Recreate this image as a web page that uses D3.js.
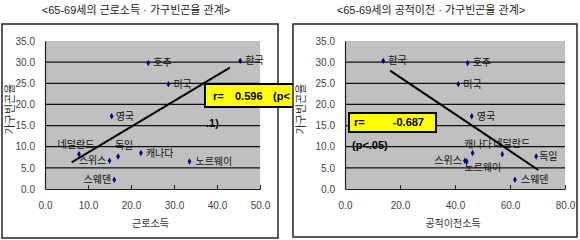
<!DOCTYPE html>
<html>
<head>
<meta charset="utf-8">
<script src="https://cdn.jsdelivr.net/npm/d3@7"></script>
<style>
  body { margin: 0; background: #fff; }
  text { font-family: 'Liberation Sans', 'Noto Sans CJK KR', sans-serif; }
</style>
</head>
<body>
<div id="chart"></div>
<script>
// Two scatter panels: elderly household poverty vs earned income / public transfers.

const countries = ['한국', '호주', '미국', '영국', '네덜란드', '스위스', '독일', '캐나다', '노르웨이', '스웨덴'];
const povertyRate = [30.3, 29.8, 24.8, 17.2, 8.2, 6.7, 7.7, 8.5, 6.5, 2.2];
const earnedIncome = [45.4, 24.0, 28.7, 15.5, 7.9, 15.0, 17.0, 22.3, 33.6, 16.1];
const publicTransfer = [13.9, 44.6, 41.2, 46.1, 57.2, 43.6, 69.5, 46.4, 44.3, 61.8];

const yTicks = [0, 5, 10, 15, 20, 25, 30, 35];
const earnedTicks = [0, 10, 20, 30, 40, 50];
const transferTicks = [0, 20, 40, 60, 80];

// trend line ends as drawn in the source
const earnedTrendX = [6.2, 43.0];
const earnedTrendY = [6.3, 28.7];
const transferTrendX = [16.4, 70.3];
const transferTrendY = [28.0, 4.5];

const panelTitles = ['<65-69세의 근로소득 · 가구빈곤율 관계>', '<65-69세의 공적이전 · 가구빈곤율 관계>'];
const xTitles = ['근로소득', '공적이전소득'];
const yTitle = '가구빈곤율';
const corrLabels = ['0.596', '-0.687'];
const sigLabels = ['(p<', '(p<.05)'];

// label placement per panel: [dx, dy, anchor]
const earnedLabelPos = {
  '한국': [5, 0, 'start'], '호주': [5, 0, 'start'], '미국': [5, 0, 'start'], '영국': [4, 0, 'start'],
  '네덜란드': [-3, -10, 'middle'], '스위스': [-3, 0, 'end'], '독일': [6, -11, 'middle'],
  '캐나다': [5, 0, 'start'], '노르웨이': [6, 0, 'start'], '스웨덴': [-3, 0, 'end']
};
const transferLabelPos = {
  '한국': [5, 0, 'start'], '호주': [5, 0, 'start'], '미국': [5, 0, 'start'], '영국': [5, 0, 'start'],
  '네덜란드': [-9, -11, 'start'], '스위스': [-3, 0, 'end'], '독일': [3, 0, 'start'],
  '캐나다': [19, -9, 'end'], '노르웨이': [16, 6, 'middle'], '스웨덴': [6, 0, 'start']
};

const svg = d3.select('#chart').append('svg').attr('width', 580).attr('height', 240);

function drawPanel(opts) {
  const { frame, plot, xValues, xTicks, xMax, trendX, trendY, labelPos, title, xTitle } = opts;
  const g = svg.append('g');

  g.append('rect')
    .attr('x', frame.x).attr('y', frame.y)
    .attr('width', frame.w).attr('height', frame.h)
    .attr('fill', '#fff').attr('stroke', '#222').attr('stroke-width', 1.5);

  g.append('text')
    .attr('x', frame.x + frame.w / 2 - 4).attr('y', 10)
    .attr('text-anchor', 'middle').attr('dominant-baseline', 'central')
    .attr('font-size', 11).attr('fill', '#222')
    .text(title);

  const x = d3.scaleLinear().domain([0, xMax]).range([plot.left, plot.right]);
  const y = d3.scaleLinear().domain([0, 35]).range([plot.bottom, plot.top]);

  g.append('rect')
    .attr('x', plot.left).attr('y', plot.top)
    .attr('width', plot.right - plot.left).attr('height', plot.bottom - plot.top)
    .attr('fill', '#c0c0c0');

  g.selectAll('line.grid')
    .data(yTicks.filter((d) => d > 0 && d < 35))
    .join('line')
    .attr('class', 'grid')
    .attr('x1', plot.left).attr('x2', plot.right)
    .attr('y1', (d) => y(d)).attr('y2', (d) => y(d))
    .attr('stroke', '#111').attr('stroke-width', 1.2);

  g.append('g')
    .attr('transform', `translate(${plot.left},0)`)
    .call(d3.axisLeft(y).tickValues(yTicks).tickSize(0).tickPadding(10).tickFormat(d3.format('.1f')))
    .call((a) => a.select('.domain').attr('stroke', '#222').attr('stroke-width', 1.2))
    .selectAll('text')
    .attr('font-size', 10).attr('fill', '#444');

  g.append('g')
    .attr('transform', `translate(0,${plot.bottom})`)
    .call(d3.axisBottom(x).tickValues(xTicks).tickSizeInner(-4).tickSizeOuter(0).tickPadding(13).tickFormat(d3.format('.1f')))
    .call((a) => a.select('.domain').attr('stroke', '#222').attr('stroke-width', 1.2))
    .call((a) => a.selectAll('line').attr('stroke', '#222'))
    .selectAll('text')
    .attr('font-size', 10).attr('fill', '#444');

  g.append('text')
    .attr('transform', `translate(${frame.x + 8},${(plot.top + plot.bottom) / 2 - 6}) rotate(-90)`)
    .attr('text-anchor', 'middle').attr('dominant-baseline', 'central')
    .attr('font-size', 11).attr('fill', '#333')
    .text(yTitle);

  g.append('text')
    .attr('x', (plot.left + plot.right) / 2 - 2).attr('y', 223)
    .attr('text-anchor', 'middle').attr('dominant-baseline', 'central')
    .attr('font-size', 10).attr('fill', '#333')
    .text(xTitle);

  const points = countries.map((c, i) => ({ name: c, xv: xValues[i], yv: povertyRate[i] }));

  g.selectAll('path.marker')
    .data(points)
    .join('path')
    .attr('class', 'marker')
    .attr('d', d3.symbol(d3.symbolDiamond, 12))
    .attr('transform', (d) => `translate(${x(d.xv)},${y(d.yv)})`)
    .attr('fill', '#000080');

  g.selectAll('text.point-label')
    .data(points)
    .join('text')
    .attr('class', 'point-label')
    .attr('x', (d) => x(d.xv) + labelPos[d.name][0])
    .attr('y', (d) => y(d.yv) + labelPos[d.name][1])
    .attr('text-anchor', (d) => labelPos[d.name][2])
    .attr('dominant-baseline', 'central')
    .attr('font-size', 10).attr('fill', '#111')
    .text((d) => d.name);

  g.append('line')
    .attr('x1', x(trendX[0])).attr('y1', y(trendY[0]))
    .attr('x2', x(trendX[1])).attr('y2', y(trendY[1]))
    .attr('stroke', '#000').attr('stroke-width', 2);

  return g;
}

// left panel
const left = drawPanel({
  frame: { x: 2, y: 24, w: 276, h: 214 },
  plot: { left: 45, right: 260, top: 41, bottom: 189 },
  xValues: earnedIncome, xTicks: earnedTicks, xMax: 50,
  trendX: earnedTrendX, trendY: earnedTrendY,
  labelPos: earnedLabelPos, title: panelTitles[0], xTitle: xTitles[0]
});

left.append('rect')
  .attr('x', 205).attr('y', 84).attr('width', 90).attr('height', 23)
  .attr('fill', '#ffff00').attr('stroke', '#000').attr('stroke-width', 2);
left.append('text').attr('x', 213).attr('y', 96).attr('dominant-baseline', 'central')
  .attr('font-size', 11).attr('font-weight', 'bold').text('r=');
left.append('text').attr('x', 235).attr('y', 96).attr('dominant-baseline', 'central')
  .attr('font-size', 11).attr('font-weight', 'bold').text(corrLabels[0]);
left.append('text').attr('x', 273).attr('y', 96).attr('dominant-baseline', 'central')
  .attr('font-size', 11).attr('font-weight', 'bold').text(sigLabels[0]);
left.append('text').attr('x', 206).attr('y', 123).attr('dominant-baseline', 'central')
  .attr('font-size', 11).attr('font-weight', 'bold').text('.1)');

// right panel (drawn over the clipped box of the left one)
const right = drawPanel({
  frame: { x: 293, y: 24, w: 284, h: 213 },
  plot: { left: 345, right: 565, top: 41, bottom: 189 },
  xValues: publicTransfer, xTicks: transferTicks, xMax: 80,
  trendX: transferTrendX, trendY: transferTrendY,
  labelPos: transferLabelPos, title: panelTitles[1], xTitle: xTitles[1]
});

right.append('rect')
  .attr('x', 349).attr('y', 113).attr('width', 87).attr('height', 19)
  .attr('fill', '#ffff00').attr('stroke', '#000').attr('stroke-width', 2);
right.append('text').attr('x', 354).attr('y', 122).attr('dominant-baseline', 'central')
  .attr('font-size', 11).attr('font-weight', 'bold').text('r=');
right.append('text').attr('x', 424).attr('y', 122).attr('dominant-baseline', 'central')
  .attr('text-anchor', 'end')
  .attr('font-size', 11).attr('font-weight', 'bold').text(corrLabels[1]);
right.append('text').attr('x', 352).attr('y', 145).attr('dominant-baseline', 'central')
  .attr('font-size', 11).attr('font-weight', 'bold').text(sigLabels[1]);
</script>
</body>
</html>
